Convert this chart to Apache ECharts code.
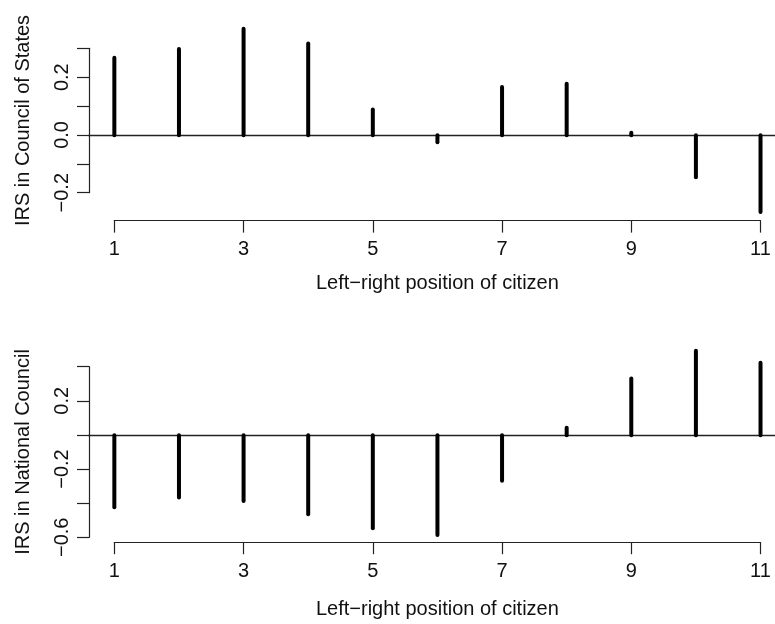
<!DOCTYPE html>
<html>
<head>
<meta charset="utf-8">
<script src="https://cdn.jsdelivr.net/npm/echarts@6/dist/echarts.min.js"></script>
<style>html,body{margin:0;padding:0;background:#fff}#c{width:775px;height:624px}</style>
</head>
<body>
<div id="c"></div>
<script>
// Data
const positions = [1, 2, 3, 4, 5, 6, 7, 8, 9, 10, 11];
const councilOfStates = [0.268, 0.299, 0.369, 0.318, 0.089, -0.025, 0.167, 0.178, 0.008, -0.146, -0.266];
const nationalCouncil = [-0.422, -0.364, -0.385, -0.463, -0.545, -0.584, -0.266, 0.043, 0.332, 0.493, 0.424];
const xTickLabels = ['1', '3', '5', '7', '9', '11'];
const topYLabels = { '-2': '\u22120.2', '0': '0.0', '2': '0.2' };      // keys: value*10
const bottomYLabels = { '-6': '\u22120.6', '-2': '\u22120.2', '2': '0.2' };
const xTitle = 'Left\u2212right position of citizen';
const topYTitle = 'IRS in Council of States';
const bottomYTitle = 'IRS in National Council';

const FONT = "'Liberation Sans', Arial, Helvetica, sans-serif";
const AX = '#222';

const chart = echarts.init(document.getElementById('c'), null, { renderer: 'canvas' });

function spikeRender(params, api) {
  const x = api.value(0), v = api.value(1);
  const p0 = api.coord([x, 0]);
  const p1 = api.coord([x, v]);
  return {
    type: 'line',
    shape: { x1: p0[0], y1: p0[1], x2: p1[0], y2: p1[1] },
    style: { stroke: '#000', lineWidth: 4, lineCap: 'round' }
  };
}

function panel(pTop, pBottom, yMin, yMax, axTop, axBottom, tMin, tMax, labels, yTitle, xNameGap) {
  return {
    grids: [
      { left: 88.5, width: 686.5, top: pTop, height: pBottom - pTop },
      { left: 114.3, width: 646.2, top: pBottom - 20, height: 20 },
      { left: 89, width: 10, top: axTop, height: axBottom - axTop }
    ],
    yMin, yMax, tMin, tMax, labels, yTitle, xNameGap
  };
}

const P = [
  panel(21.5, 220.6, -0.2962, 0.394, 48.3, 192.7, -0.2, 0.3, topYLabels, topYTitle, 53),
  panel(343, 542.2, -0.626, 0.539, 366.7, 537.3, -0.6, 0.4, bottomYLabels, bottomYTitle, 57)
];

const grid = [], xAxis = [], yAxis = [], series = [];
P.forEach((p, i) => {
  const g0 = i * 3;
  grid.push(...p.grids);
  // plot region axes (x range 0.6 .. right edge of the picture)
  xAxis.push({
    gridIndex: g0, type: 'value', min: 0.6, max: 11.224,
    axisLine: { show: true, onZero: true, lineStyle: { color: AX, width: 1.3 } },
    axisTick: { show: false }, axisLabel: { show: false }, splitLine: { show: false }
  });
  yAxis.push({
    gridIndex: g0, type: 'value', min: p.yMin, max: p.yMax, show: false, splitLine: { show: false }
  });
  // x axis (ticks 1..11)
  xAxis.push({
    gridIndex: g0 + 1, type: 'value', min: 1, max: 11, interval: 2, position: 'bottom',
    axisLine: { show: true, onZero: false, lineStyle: { color: AX, width: 1.2 } },
    axisTick: { show: true, inside: false, length: 12, lineStyle: { color: AX, width: 1.2 } },
    axisLabel: {
      margin: 19, fontSize: 20, fontFamily: FONT, color: '#111',
      showMinLabel: true, showMaxLabel: true,
      formatter: v => xTickLabels[Math.round((v - 1) / 2)] || ''
    },
    splitLine: { show: false },
    name: xTitle, nameLocation: 'middle', nameGap: p.xNameGap,
    nameTextStyle: { fontSize: 20, fontFamily: FONT, color: '#111' }
  });
  yAxis.push({ gridIndex: g0 + 1, type: 'value', show: false, min: 0, max: 1 });
  // y axis
  xAxis.push({ gridIndex: g0 + 2, type: 'value', show: false, min: 0, max: 1 });
  yAxis.push({
    gridIndex: g0 + 2, type: 'value', min: p.tMin, max: p.tMax, interval: i === 0 ? 0.1 : 0.2,
    position: 'left',
    axisLine: { show: true, onZero: false, lineStyle: { color: AX, width: 1.2 } },
    axisTick: { show: true, inside: false, length: 12, lineStyle: { color: AX, width: 1.2 } },
    axisLabel: {
      rotate: 90, margin: 17, fontSize: 20, fontFamily: FONT, color: '#111',
      showMinLabel: true, showMaxLabel: true,
      formatter: v => p.labels[String(Math.round(v * 10))] || ''
    },
    splitLine: { show: false },
    name: p.yTitle, nameLocation: 'middle', nameGap: 56,
    nameTextStyle: { fontSize: 20, fontFamily: FONT, color: '#111' }
  });
  const vals = i === 0 ? councilOfStates : nationalCouncil;
  series.push({
    type: 'custom', xAxisIndex: g0, yAxisIndex: g0,
    renderItem: spikeRender, silent: true, clip: false,
    data: positions.map((x, k) => [x, vals[k]])
  });
});

chart.setOption({
  backgroundColor: '#fff',
  animation: false,
  grid, xAxis, yAxis, series
});
</script>
</body>
</html>
